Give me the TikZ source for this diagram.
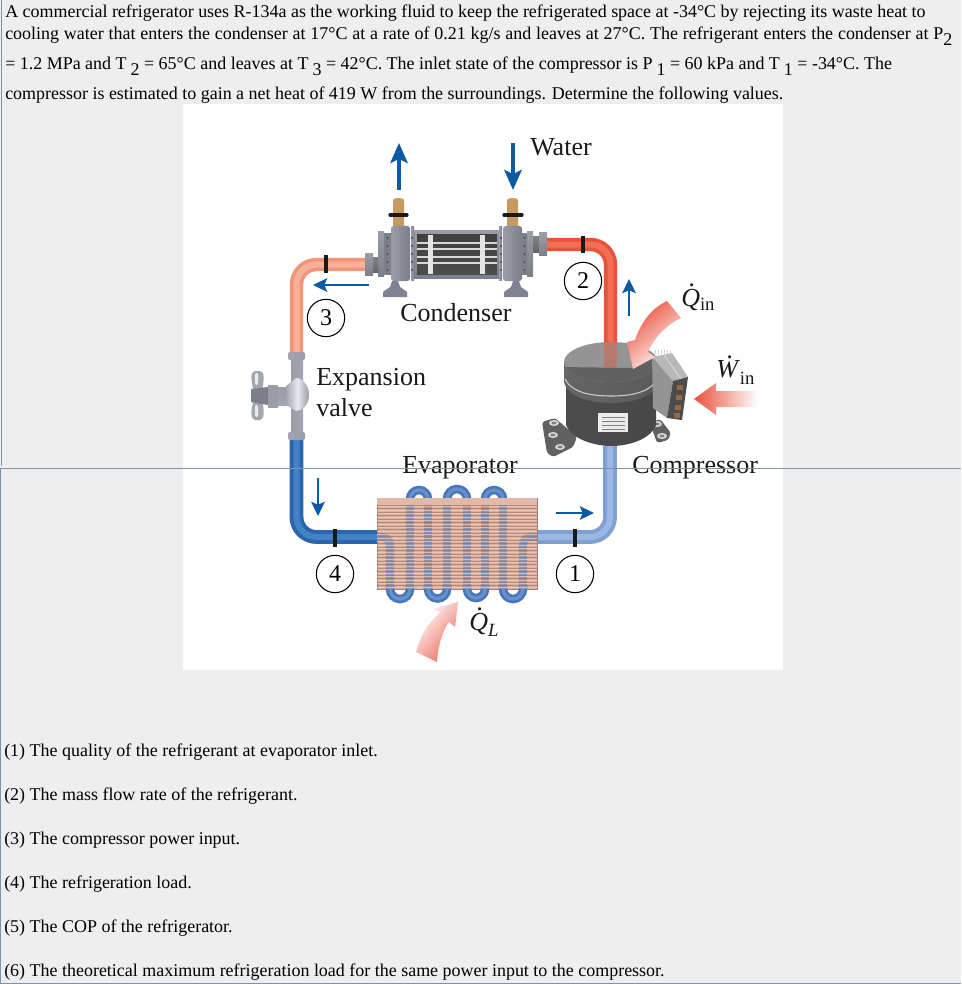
\documentclass[tikz,border=0pt]{standalone}
\usepackage{fontspec}
\setmainfont{Liberation Serif}
\usetikzlibrary{arrows.meta}
\definecolor{pagebg}{HTML}{EEEEEE}
\definecolor{rule}{HTML}{7F93A8}
\definecolor{wblue}{HTML}{0B5AA3}
\definecolor{heat}{HTML}{E9503C}
\definecolor{ptwoa}{RGB}{232,83,58}
\definecolor{ptwob}{RGB}{242,110,84}
\definecolor{pthreea}{RGB}{240,148,122}
\definecolor{pthreeb}{RGB}{250,176,152}
\definecolor{pfoura}{RGB}{42,102,174}
\definecolor{pfourb}{RGB}{68,130,198}
\definecolor{ponea}{RGB}{127,160,212}
\definecolor{poneb}{RGB}{156,184,226}
\definecolor{brass}{RGB}{201,154,95}
\definecolor{footc}{RGB}{128,130,148}
\definecolor{termc}{RGB}{150,105,70}
\definecolor{finbase}{RGB}{222,176,158}
\definecolor{finedge}{RGB}{160,125,112}
\definecolor{fintop}{RGB}{228,184,166}
\definecolor{findark}{RGB}{150,110,100}
\definecolor{finlight}{RGB}{240,205,190}
\definecolor{coila}{RGB}{72,118,186}
\definecolor{coilb}{RGB}{104,144,204}
\definecolor{coilc}{RGB}{140,148,176}
\definecolor{silvA}{HTML}{9A9CA8}
\definecolor{silvB}{HTML}{E9EAEE}
\definecolor{silvC}{HTML}{A3A5B0}
\definecolor{silvD}{HTML}{7C7E8A}
\newcommand{\sbs}[1]{\raisebox{-4.5pt}{#1}}
\newcommand{\sbk}[1]{\kern3pt\raisebox{-4.5pt}{#1}}
\newcommand{\dq}[2]{\leavevmode\rlap{\hspace{#2}\raisebox{.74em}{\textit{.}}}\textit{#1}}
\tikzset{
  body/.style={anchor=base west,inner sep=0pt,font=\fontsize{13.47}{15}\selectfont},
  lab/.style={anchor=base west,inner sep=0pt,text=black!90,font=\fontsize{19.5}{22}\selectfont},
  numc/.style={circle,draw=black,line width=.8pt,fill=white,minimum size=28pt,inner sep=0pt,font=\fontsize{18}{20}\selectfont},
  flow/.style={wblue,line width=2.6pt,-{Stealth[length=15pt,width=13pt,inset=3pt]}},
  flowsm/.style={wblue,line width=2.2pt,-{Stealth[length=10.5pt,width=10pt,inset=2pt]}},
  tick/.style={black!90,line width=2.6pt},
  edge/.style={rule,line width=.9pt},
  silverh/.style={left color=silvA,middle color=silvB,right color=silvD},
  silverv/.style={top color=silvA,middle color=silvB,bottom color=silvD},
}
\begin{document}
\begin{tikzpicture}[x=.75pt,y=-.75pt]
\useasboundingbox (0,0) rectangle (961,984);
\fill[pagebg] (0,0) rectangle (961,984);
\fill[white] (183,104) rectangle (783,670);

% ---- pipes
\coordinate (p2a) at (547,244.5); \coordinate (p2b) at (610.5,244.5); \coordinate (p2c) at (610.5,367);
\coordinate (p3a) at (365,264.5); \coordinate (p3b) at (296.5,264.5); \coordinate (p3c) at (296.5,352);
\coordinate (p4a) at (296.5,440); \coordinate (p4b) at (296.5,537); \coordinate (p4c) at (378,537);
\coordinate (p1a) at (537,537); \coordinate (p1b) at (610,537); \coordinate (p1c) at (610,446);
\draw[line width=10pt,color=ptwoa,rounded corners=15pt] (p2a)--(p2b)--(p2c);
\draw[line width=4.5pt,color=ptwob,rounded corners=15pt] (p2a)--(p2b)--(p2c);
\draw[line width=10pt,color=pthreea,rounded corners=15pt] (p3a)--(p3b)--(p3c);
\draw[line width=4.5pt,color=pthreeb,rounded corners=15pt] (p3a)--(p3b)--(p3c);
\draw[line width=10.4pt,color=pfoura,rounded corners=15pt] (p4a)--(p4b)--(p4c);
\draw[line width=4.5pt,color=pfourb,rounded corners=15pt] (p4a)--(p4b)--(p4c);
\draw[line width=10.4pt,color=ponea,rounded corners=15pt] (p1a)--(p1b)--(p1c);
\draw[line width=4.5pt,color=poneb,rounded corners=15pt] (p1a)--(p1b)--(p1c);

% ---- ticks
\draw[tick] (326,255)--(326,273);
\draw[tick] (583,236)--(583,253);
\draw[tick] (335,529)--(335,547);
\draw[tick] (575,529)--(575,547);

% ---- condenser
\fill[brass] (393,200) arc[start angle=180,end angle=360,x radius=5.5,y radius=2] -- (404,228) -- (393,228) -- cycle;
\fill[brass] (507,200) arc[start angle=180,end angle=360,x radius=5.5,y radius=2] -- (518,228) -- (507,228) -- cycle;
\draw[black!90,line width=2.4pt,line cap=round] (390,215)--(407,215);
\draw[black!90,line width=2.4pt,line cap=round] (504,215)--(522,215);
\shade[silverv] (413,231) rectangle (500,278);
\shade[top color=black!75,middle color=black!50,bottom color=black!70] (417,235) rectangle (497,274);
\foreach \yy in {243,249,257,263}{\draw[white!85!black,line width=1pt] (417,\yy)--(497,\yy);}
\foreach \xx in {430,482}{\fill[white!90!black] (\xx-2.5,235) rectangle (\xx+2.5,274);}
\shade[silverh] (411,227) rectangle (414,280);
\shade[silverh] (499,227) rectangle (502,280);
\shade[silverh,rounded corners=2pt] (391,226) rectangle (410,281);
\shade[silverh,rounded corners=2pt] (503,226) rectangle (522,281);
\shade[silverv] (378,232) rectangle (384,276);
\shade[top color=silvD,middle color=silvB,bottom color=silvD] (384,234) rectangle (391,274);
\shade[silverv] (527,232) rectangle (533,276);
\shade[top color=silvD,middle color=silvB,bottom color=silvD] (522,234) rectangle (527,274);
\foreach \yy in {238,246,254,262,270}{\fill[black!70] (387.5,\yy) circle (1.2); \fill[black!70] (412,\yy) circle (1.2); \fill[black!70] (501,\yy) circle (1.2); \fill[black!70] (524.5,\yy) circle (1.2);}
\shade[top color=black!50,middle color=silvD,bottom color=black!60] (373,257) rectangle (378,272);
\shade[silverv] (365,253) rectangle (373,275);
\shade[top color=black!50,middle color=silvD,bottom color=black!60] (533,237) rectangle (539,252);
\shade[silverv] (539,233) rectangle (547,255);
\foreach \dx in {0,121}{
  \fill[footc,shift={(\dx,0)}] (383,297)--(407,297)--(407,292)--(400,287)--(398,281)--(392,281)--(390,287)--(383,292)--cycle;
}

% ---- valve
\shade[left color=silvA,middle color=silvB,right color=silvC] (291,358) rectangle (303,434);
\shade[top color=silvA,middle color=silvB,bottom color=silvC] (270,387) rectangle (292,405);
\shade[left color=silvC,right color=silvA,middle color=silvB] (296,378) .. controls (303,378) and (309,386) .. (309,395) .. controls (309,404) and (303,411) .. (296,411) -- (286,405) -- (286,386) -- cycle;
\shade[left color=silvC,middle color=silvB,right color=silvA,rounded corners=1pt] (288,352) rectangle (305,360);
\shade[left color=silvC,middle color=silvB,right color=silvA,rounded corners=1pt] (288,432) rectangle (305,440);
\shade[top color=silvA,middle color=silvB,bottom color=silvA] (268,385) rectangle (278,407);
\fill[silvC,rounded corners=2pt] (253,371)--(262,371)--(264,376)--(262,395)--(264,414)--(262,420)--(253,420)--(251,414)--(254,395)--(251,376)--cycle;
\fill[silvB,rounded corners=1pt] (255,373) rectangle (258,385);
\fill[silvB,rounded corners=1pt] (255,405) rectangle (258,417);
\fill[silvD] (251,389) -- (268,387) -- (268,405) -- (251,402) -- cycle;

% ---- compressor
\fill[black!62,rounded corners=2pt] (542,422)--(555,418)--(577,437)--(573,447)--(553,457)--(547,453)--cycle;
\fill[black!62,rounded corners=2pt] (650,423)--(660,419)--(671,433)--(668,440)--(657,443)--cycle;
\foreach \hx/\hy in {554/423,553/435,560/447,657/424,662/436}{
  \fill[white!85!black] (\hx,\hy) ellipse (5 and 3);
  \fill[black!50] (\hx,\hy) ellipse (2.6 and 1.4);
}
\shade[left color=black!70,middle color=black!45,right color=black!72] (566,380) -- (566,425) .. controls (572,440) and (596,446) .. (611,446) .. controls (628,446) and (650,440) .. (656,425) -- (656,380) -- cycle;
\shade[left color=black!60,middle color=black!35,right color=black!65] (564,362) -- (564,382) .. controls (568,398) and (592,403) .. (611,403) .. controls (630,403) and (654,398) .. (658,382) -- (658,362) -- cycle;
\draw[black!20,line width=.8pt] (565,379) .. controls (572,393) and (592,396) .. (611,396) .. controls (630,396) and (650,393) .. (657,379);
\begin{scope}
\clip (611,362) ellipse (47 and 20);
\fill[black!42] (560,335) rectangle (662,385);
\fill[black!62] (560,367) -- (633,368) -- (655,357) -- (662,385) -- (560,385) -- cycle;
\end{scope}
\draw[ptwoa,opacity=.42,line width=9.6pt] (610.5,342)--(p2c);
\fill[white!92!black] (598,413) rectangle (628,432);
\foreach \yy in {417,421,425,429}{\draw[gray,line width=.7pt] (602,\yy)--(625,\yy);}
% terminal box
\foreach \xx in {655,658,661,664,667,670}{\draw[gray!35,line width=.5pt] (\xx,350)--(\xx,354);}
\fill[white!72!black] (652,357)--(672,353)--(688,377)--(673,381)--cycle;
\fill[white!58!black] (652,357)--(673,381)--(667,418)--(653,408)--cycle;
\fill[black!70] (673,381)--(688,377)--(682,420)--(667,418)--cycle;
\draw[white!85!black,line width=.6pt] (664,355)--(681,379);
\foreach \tx/\ty in {680/387,679/397,678/407,677/415}{\fill[termc] (\tx-3,\ty-2.5) rectangle (\tx+3,\ty+2.5);}

% ---- evaporator
\fill[finbase] (377,498) rectangle (537,589);
\draw[finedge,line width=.5pt] (377,498) rectangle (537,589);
\foreach \xa/\xb in {410/428,447/467,485/503}{
  \draw[coila,line width=6.4pt] (\xa,505) -- (\xa,499) arc[start angle=180,end angle=360,x radius={(\xb-\xa)/2},y radius={(\xb-\xa)/2}] -- (\xb,505);
  \draw[coilb,line width=2.4pt] (\xa,505) -- (\xa,499) arc[start angle=180,end angle=360,x radius={(\xb-\xa)/2},y radius={(\xb-\xa)/2}] -- (\xb,505);
}
\foreach \xa/\xb in {390/410,428/447,467/485,503/523}{
  \draw[coila,line width=6.4pt] (\xa,585) -- (\xa,589) arc[start angle=180,end angle=0,x radius={(\xb-\xa)/2},y radius={(\xb-\xa)/2}] -- (\xb,585);
  \draw[coilb,line width=2.4pt] (\xa,585) -- (\xa,589) arc[start angle=180,end angle=0,x radius={(\xb-\xa)/2},y radius={(\xb-\xa)/2}] -- (\xb,585);
}
\foreach \xx in {410,428,447,467,485,503}{\draw[coilc,line width=6.2pt] (\xx,503)--(\xx,589);}
\draw[coilc,line width=6.2pt,rounded corners=6pt] (377,537)--(390,537)--(390,589);
\draw[coilc,line width=6.2pt,rounded corners=6pt] (537,537)--(523,537)--(523,589);
\fill[fintop] (377.3,498.3) rectangle (536.7,505);
\foreach \yy in {505,508.5,...,588}{\draw[findark,opacity=.6,line width=.55pt] (377,\yy)--(537,\yy);}
\foreach \yy in {506.7,510.2,...,588}{\draw[finlight,opacity=.7,line width=.6pt] (377,\yy)--(537,\yy);}

% ---- heat arrows
\shade[left color=heat,right color=white,shading angle=40]
 (667,301) .. controls (652,308) and (641,322) .. (635,340) -- (627,342) -- (633,369) -- (655,357) -- (648,352) .. controls (654,338) and (666,325) .. (681,318) -- cycle;
\shade[left color=heat,right color=white] (694,399) -- (716,383) -- (716,391) -- (758,391) -- (758,407) -- (716,407) -- (716,415) -- cycle;
\shade[left color=white,right color=heat!85,shading angle=50]
 (416,652) .. controls (421,634) and (430,620) .. (441,612) -- (433,609) -- (458,602) -- (455,627) -- (449,622) .. controls (442,632) and (438,646) .. (437,662) -- cycle;

% ---- flow arrows
\coordinate (w1) at (399,190); \coordinate (w2) at (399,143);
\coordinate (w3) at (513,143); \coordinate (w4) at (513,190);
\coordinate (f3a) at (369,285); \coordinate (f3b) at (313,285);
\coordinate (f2a) at (629,316); \coordinate (f2b) at (629,279);
\coordinate (f4a) at (318,478); \coordinate (f4b) at (318,516);
\coordinate (f1a) at (556,513); \coordinate (f1b) at (594,513);
\draw[flow] (w1)--(w2);
\draw[flow] (w3)--(w4);
\draw[flowsm] (f3a)--(f3b);
\draw[flowsm] (f2a)--(f2b);
\draw[flowsm] (f4a)--(f4b);
\draw[flowsm] (f1a)--(f1b);

% ---- state circles
\node[numc] (n3) at (326,318) {3};
\node[numc] (n2) at (583,281) {2};
\node[numc] (n4) at (335,574) {4};
\node[numc] (n1) at (575,574) {1};

% ---- labels
\node[lab] (water) at (530,156) {Water};
\node[lab] (cond) at (400,321) {Condenser};
\node[lab] (exp1) at (316,385) {Expansion};
\node[lab] (exp2) at (316,416.5) {valve};
\node[lab] (evap) at (402,473) {Evaporator};
\node[lab] (comp) at (632,473) {Compressor};
\node[lab] (qin) at (681,306) {\dq{Q}{.3em}\raisebox{-3pt}{\fontsize{14}{16}\selectfont in}};
\node[lab] (win) at (716,377.5) {\dq{W}{.42em}\raisebox{-5pt}{\fontsize{14}{16}\selectfont in}};
\node[lab] (ql) at (469,630) {\dq{Q}{.3em}\raisebox{-5pt}{\fontsize{14}{16}\selectfont\itshape L}};

% ---- statement
\node[body] (t1) at (5,18) {A commercial refrigerator uses R-134a as the working fluid to keep the refrigerated space at -34°C by rejecting its waste heat to};
\node[body] (t2) at (5,40) {\spaceskip=3.62pt cooling water that enters the condenser at 17°C at a rate of 0.21 kg/s and leaves at 27°C. The refrigerant enters the condenser at P\sbs{2}};
\node[body] (t3) at (5,70) {= 1.2 MPa and T\sbk{2} = 65°C and leaves at T\sbk{3} = 42°C. The inlet state of the compressor is P\sbk{1} = 60 kPa and T\sbk{1} = -34°C. The};
\node[body] (t4) at (5,100) {compressor is estimated to gain a net heat of 419 W from the surroundings. Determine the following values.};
\node[body] (q1) at (4,756) {(1) The quality of the refrigerant at evaporator inlet.};
\node[body] (q2) at (4,800) {(2) The mass flow rate of the refrigerant.};
\node[body] (q3) at (4,844) {(3) The compressor power input.};
\node[body] (q4) at (4,888) {(4) The refrigeration load.};
\node[body] (q5) at (4,932) {(5) The COP of the refrigerator.};
\node[body] (q6) at (4,976) {(6) The theoretical maximum refrigeration load for the same power input to the compressor.};

% ---- page rules
\draw[edge] (1.5,0)--(1.5,466);
\draw[edge] (0.5,468)--(0.5,984);
\draw[edge] (0,468.5)--(961,468.5);
\draw[edge] (0,983.5)--(961,983.5);
\end{tikzpicture}
\end{document}
